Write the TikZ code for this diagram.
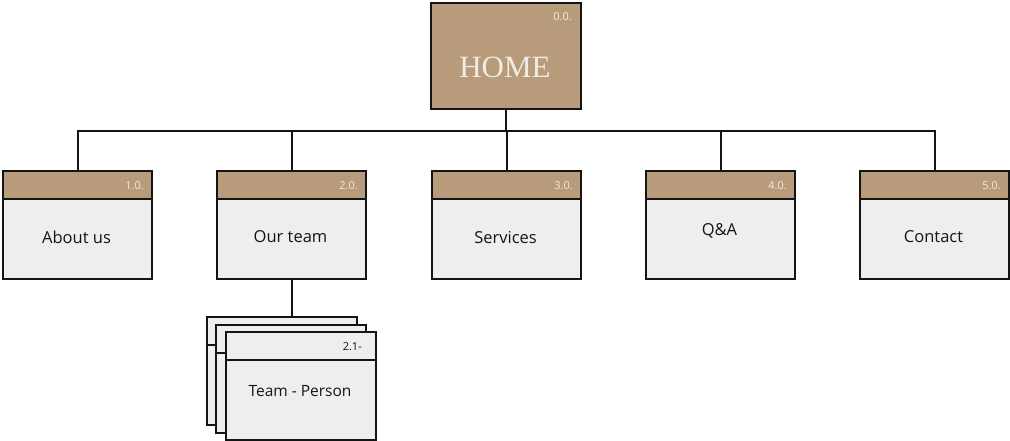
\documentclass[tikz,border=0pt]{standalone}
\usepackage{fontspec}
\usetikzlibrary{calc}
\setmainfont{Open Sans}
\newfontfamily\homefont{Liberation Serif}
\definecolor{tan}{RGB}{184,155,122}
\definecolor{lightfill}{RGB}{238,238,238}
\definecolor{numcol}{RGB}{240,235,227}
\definecolor{edge}{RGB}{20,20,20}
\tikzset{
  boxline/.style={draw=edge, line width=2pt},
  childbox/.style={boxline, fill=lightfill, rectangle, minimum width=149pt, minimum height=108pt, inner sep=0pt, anchor=north west},
  headbox/.style={boxline, fill=tan, rectangle, minimum width=149pt, minimum height=28pt, inner sep=0pt, anchor=north west},
  teambox/.style={boxline, fill=lightfill, rectangle, minimum width=150pt, minimum height=108pt, inner sep=0pt, anchor=north west},
  teamhead/.style={boxline, fill=lightfill, rectangle, minimum width=150pt, minimum height=28pt, inner sep=0pt, anchor=north west},
  numlabel/.style={font=\fontsize{11}{12}\selectfont, text=numcol, anchor=east, inner sep=0pt},
  darknum/.style={font=\fontsize{11}{12}\selectfont, text=edge, anchor=east, inner sep=0pt},
  bodytext/.style={font=\fontsize{16.5}{20}\selectfont, text=edge, inner sep=0pt},
  teamtext/.style={font=\fontsize{15.5}{18}\selectfont, text=edge, inner sep=0pt},
  conn/.style={draw=edge, line width=2pt},
}
\begin{document}
\begin{tikzpicture}[x=1pt,y=-1pt]
\useasboundingbox (0,0) rectangle (1010,441);
% home
\node[boxline, fill=tan, rectangle, minimum width=150pt, minimum height=106pt, inner sep=0pt, anchor=north west] (home) at (430,2) {};
\node[font=\homefont\fontsize{31}{34}\selectfont, text=numcol, inner sep=0pt] (hometext) at (505,67) {HOME};
\node[numlabel] (homenum) at (572,17) {0.0.};
\coordinate (bus) at (0,131);
% children
\foreach \i/\x/\lab/\num/\dy in {1/2/About us/1.0./237, 2/216/Our team/2.0./237, 3/431/Services/3.0./238, 4/645/Q\&A/4.0./231, 5/859/Contact/5.0./237}{
  \node[childbox] (c\i) at (\x,170) {};
  \node[headbox] (c\i h) at (\x,170) {};
  \node[numlabel] (c\i num) at ($(\x,186)+(142,0)$) {\num};
  \node[bodytext] (c\i text) at ($(\x,\dy)+(74.5,0)$) {\lab};
  \draw[conn] (home.south) -- (home.south |- bus) -| (c\i h.north);
}
% team stack
\node[teambox] (t1) at (206,316) {};
\node[teamhead] (t1h) at (206,316) {};
\node[teambox] (t2) at (215,324) {};
\node[teamhead] (t2h) at (215,324) {};
\node[teambox] (t3) at (225,331) {};
\node[teamhead] (t3h) at (225,331) {};
\node[darknum] (t3num) at (362,347) {2.1-};
\node[teamtext] (t3text) at (300,391) {Team - Person};
\draw[conn] (c2.south) -- (c2.south |- t1.north);
\end{tikzpicture}
\end{document}
